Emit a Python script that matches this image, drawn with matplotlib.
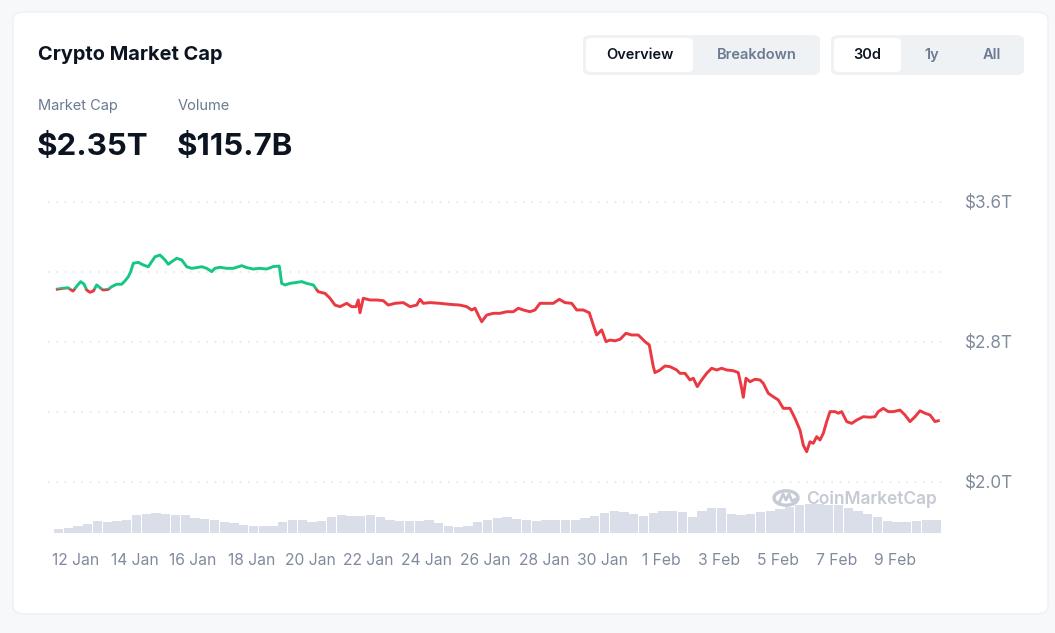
import numpy as np
import matplotlib.pyplot as plt
from matplotlib.patches import FancyBboxPatch, Rectangle, Circle

plt.rcParams['font.family'] = ['Inter', 'DejaVu Sans']

# market cap in trillion USD, time in days from 12 Jan 00:00
t_days = [-0.639, -0.444, -0.274, -0.103, 0.079, 0.161, 0.274, 0.366, 0.479, 0.591,
          0.708, 0.821, 0.933, 1.104, 1.221, 1.391, 1.562, 1.675, 1.788, 1.870,
          1.959, 2.130, 2.301, 2.472, 2.588, 2.701, 2.872, 3.043, 3.156, 3.272,
          3.443, 3.614, 3.785, 3.956, 4.126, 4.297, 4.468, 4.639, 4.752, 4.923,
          5.152, 5.378, 5.665, 5.836, 6.062, 6.291, 6.520, 6.745, 6.950, 7.032,
          7.145, 7.316, 7.487, 7.716, 7.887, 8.113, 8.284, 8.513, 8.684, 8.855,
          9.026, 9.255, 9.426, 9.573, 9.651, 9.709, 9.822, 10.051, 10.280, 10.506,
          10.677, 10.906, 11.190, 11.419, 11.648, 11.761, 11.874, 12.103, 12.444, 12.786,
          13.128, 13.357, 13.528, 13.641, 13.754, 13.870, 14.041, 14.267, 14.496, 14.725,
          14.951, 15.122, 15.292, 15.521, 15.692, 15.863, 16.092, 16.318, 16.523, 16.718,
          16.947, 17.118, 17.344, 17.549, 17.685, 17.802, 17.973, 18.120, 18.256, 18.427,
          18.598, 18.803, 18.998, 19.224, 19.453, 19.600, 19.737, 19.795, 19.966, 20.137,
          20.308, 20.421, 20.537, 20.650, 20.821, 20.991, 21.104, 21.241, 21.391, 21.562,
          21.733, 21.904, 22.075, 22.246, 22.472, 22.643, 22.759, 22.814, 22.906, 23.043,
          23.214, 23.385, 23.497, 23.668, 23.839, 24.010, 24.181, 24.410, 24.581, 24.752,
          24.865, 24.981, 25.094, 25.207, 25.323, 25.436, 25.549, 25.665, 25.778, 25.949,
          26.062, 26.178, 26.349, 26.520, 26.691, 26.917, 27.145, 27.316, 27.429, 27.600,
          27.771, 27.942, 28.171, 28.342, 28.513, 28.684, 28.855, 29.026, 29.197, 29.368,
          29.481]
mcap_t = [3.102, 3.107, 3.110, 3.091, 3.130, 3.145, 3.131, 3.097, 3.084, 3.091,
          3.126, 3.110, 3.097, 3.101, 3.116, 3.130, 3.130, 3.149, 3.173, 3.202,
          3.250, 3.255, 3.240, 3.230, 3.259, 3.287, 3.297, 3.269, 3.244, 3.259,
          3.278, 3.269, 3.230, 3.221, 3.225, 3.230, 3.221, 3.202, 3.221, 3.227,
          3.221, 3.221, 3.236, 3.225, 3.217, 3.221, 3.217, 3.231, 3.234, 3.135,
          3.126, 3.135, 3.139, 3.145, 3.135, 3.126, 3.087, 3.078, 3.050, 3.011,
          3.002, 3.021, 3.002, 3.002, 3.040, 2.967, 3.050, 3.040, 3.040, 3.036,
          3.011, 3.021, 3.025, 3.002, 3.011, 3.044, 3.021, 3.025, 3.021, 3.015,
          3.011, 3.002, 2.983, 2.993, 2.954, 2.916, 2.954, 2.964, 2.964, 2.973,
          2.973, 2.993, 2.983, 2.973, 2.983, 3.021, 3.021, 3.021, 3.044, 3.025,
          3.021, 2.983, 2.983, 2.967, 2.897, 2.840, 2.869, 2.802, 2.811, 2.807,
          2.815, 2.850, 2.840, 2.840, 2.802, 2.783, 2.659, 2.625, 2.640, 2.663,
          2.659, 2.650, 2.640, 2.621, 2.621, 2.583, 2.593, 2.545, 2.583, 2.621,
          2.650, 2.640, 2.650, 2.640, 2.636, 2.625, 2.535, 2.484, 2.593, 2.573,
          2.587, 2.583, 2.564, 2.507, 2.487, 2.469, 2.421, 2.421, 2.364, 2.297,
          2.211, 2.173, 2.230, 2.221, 2.259, 2.240, 2.278, 2.345, 2.402, 2.402,
          2.393, 2.402, 2.345, 2.335, 2.354, 2.373, 2.370, 2.373, 2.402, 2.421,
          2.402, 2.402, 2.411, 2.383, 2.345, 2.373, 2.407, 2.393, 2.383, 2.345,
          2.350]

# 24h volume in billion USD, one bar every 8 hours
vol_start = -0.6
vol_b = [17, 24, 32, 44, 57, 55, 59, 65, 86, 92, 97, 94, 87, 87, 72, 67, 62, 55, 47, 39,
         32, 32, 32, 52, 64, 65, 54, 57, 79, 86, 81, 84, 87, 78, 64, 58, 58, 60, 62, 50,
         32, 27, 34, 52, 64, 75, 77, 69, 62, 59, 62, 62, 62, 62, 72, 84, 99, 107, 102, 92,
         84, 97, 108, 107, 102, 79, 107, 122, 124, 92, 89, 94, 103, 109, 120, 129, 139, 145, 142, 139,
         137, 124, 109, 92, 77, 59, 52, 52, 59, 64, 65]

tick_days = list(range(0, 29, 2))
tick_labels = ['12 Jan', '14 Jan', '16 Jan', '18 Jan', '20 Jan', '22 Jan', '24 Jan', '26 Jan',
               '28 Jan', '30 Jan', '1 Feb', '3 Feb', '5 Feb', '7 Feb', '9 Feb']
y_ticks = [2.0, 2.4, 2.8, 3.2, 3.6]
y_labels = ['$2.0T', '', '$2.8T', '', '$3.6T']

GREEN = '#16c784'
RED = '#ea3943'
GRAY = '#808a9d'
DARK = '#0d1421'

W, H = 1055, 633
fig = plt.figure(figsize=(W / 100, H / 100), dpi=100)
fig.patch.set_facecolor('#f7f8fa')


def fx(x):
    return x / W


def fy(y):
    return 1 - y / H


# card
card = FancyBboxPatch((fx(13), fy(614)), fx(1048) - fx(13), fy(12) - fy(614),
                      boxstyle='round,pad=0,rounding_size=0.012', transform=fig.transFigure,
                      facecolor='white', edgecolor='#eef0f3', linewidth=1, zorder=-5)
fig.patches.append(card)

fig.text(fx(38), fy(55), 'Crypto Market Cap', fontsize=14.4, fontweight='bold',
         color=DARK, va='center', ha='left')
fig.text(fx(38), fy(106), 'Market Cap', fontsize=10.5, color='#6b7a90', va='center')
fig.text(fx(178), fy(106), 'Volume', fontsize=10.5, color='#6b7a90', va='center')
fig.text(fx(37), fy(147), '$2.35T', fontsize=22.5, fontweight='bold', color=DARK, va='center')
fig.text(fx(177), fy(147), '$115.7B', fontsize=22.5, fontweight='bold', color=DARK, va='center')


def pill(x0, y0, x1, y1, color, r=0.008):
    p = FancyBboxPatch((fx(x0), fy(y1)), fx(x1) - fx(x0), fy(y0) - fy(y1),
                       boxstyle=f'round,pad=0,rounding_size={r}', transform=fig.transFigure,
                       facecolor=color, edgecolor='none', zorder=1)
    fig.patches.append(p)


pill(583, 35, 820, 75, '#eff2f5')
pill(586, 38, 693, 72, 'white', 0.006)
pill(831, 35, 1024, 75, '#eff2f5')
pill(834, 38, 901, 72, 'white', 0.006)
for label, cx, col in [('Overview', 640, DARK), ('Breakdown', 757, '#6b7a90'),
                       ('30d', 867, DARK), ('1y', 932, '#6b7a90'), ('All', 992, '#6b7a90')]:
    fig.text(fx(cx), fy(55), label, fontsize=10.5, fontweight='semibold', color=col,
             ha='center', va='center', zorder=3)

# chart
ax = fig.add_axes([fx(48), fy(532.5), fx(945) - fx(48), fy(195) - fy(532.5)])
ax.set_facecolor('none')

# volume bars on a twin axis, drawn underneath
vax = ax.twinx()
vol_days = [vol_start + k / 3 for k in range(len(vol_b))]
vax.bar(vol_days, vol_b, width=0.32, color='#d9dee8', edgecolor='none', zorder=1)
vax.set_ylim(0, 1687.5)
vax.set_axis_off()
ax.set_zorder(vax.get_zorder() + 1)

ax.set_xlim(-0.957, 29.71)
ax.set_ylim(1.7114, 3.64)

base = mcap_t[0]
g_line, = ax.plot(t_days, mcap_t, color=GREEN, lw=2.1, zorder=4, solid_joinstyle='round')
r_line, = ax.plot(t_days, mcap_t, color=RED, lw=2.1, zorder=4, solid_joinstyle='round')
g_line.set_clip_path(Rectangle((-5, base), 50, 5, transform=ax.transData))
r_line.set_clip_path(Rectangle((-5, 0), 50, base, transform=ax.transData))

ax.set_yticks(y_ticks)
ax.set_yticklabels(y_labels)
ax.yaxis.tick_right()
ax.yaxis.set_label_position('right')
ax.grid(axis='y', color='#e3e6eb', linestyle=(0, (1, 4)), linewidth=1.2)
ax.set_xticks(tick_days)
ax.set_xticklabels(tick_labels)
ax.tick_params(axis='both', length=0, labelsize=11.3, colors=GRAY)
ax.tick_params(axis='y', pad=14, labelsize=12.3)
ax.tick_params(axis='x', pad=15)
for s in ax.spines.values():
    s.set_visible(False)

# watermark
wm_col = '#c5cad4'
fig.patches.append(Circle((fx(786), fy(498)), 12 / W, transform=fig.transFigure,
                          fill=False, edgecolor=wm_col, linewidth=2.4, zorder=5))
fig.lines.append(plt.Line2D([fx(779), fx(783), fx(786), fx(789), fx(792), fx(796)],
                            [fy(503), fy(494), fy(500), fy(494), fy(501), fy(499)],
                            transform=fig.transFigure, color=wm_col, lw=2, zorder=5))
fig.text(fx(806), fy(499), 'CoinMarketCap', fontsize=12.5, fontweight='semibold',
         color=wm_col, ha='left', va='center', zorder=5)

fig.savefig('out.png', dpi=100, facecolor=fig.get_facecolor())
